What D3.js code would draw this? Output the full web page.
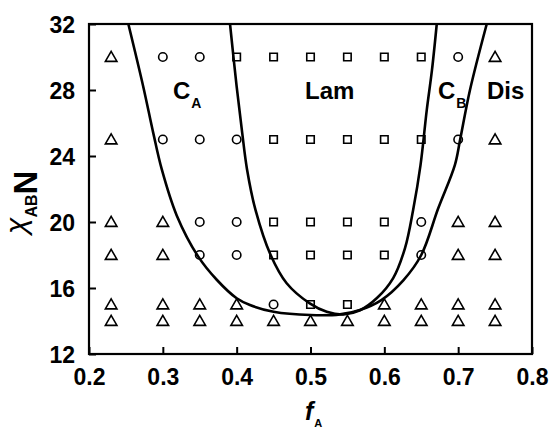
<!DOCTYPE html>
<html>
<head>
<meta charset="utf-8">
<script src="https://cdn.jsdelivr.net/npm/d3@7/dist/d3.min.js"></script>
<style>
  html, body { margin: 0; padding: 0; background: #fff; }
  svg { display: block; font-family: "Liberation Sans", Arial, sans-serif; }
</style>
</head>
<body>
<svg id="chart" width="551" height="429"></svg>
<script>
// Composition and segregation strength of each simulated state
const fA = [0.23, 0.30, 0.35, 0.40, 0.45, 0.50, 0.55, 0.60, 0.65, 0.70, 0.75];
const chiN = [30, 25, 20, 18, 15, 14];

// Observed phase at every fA, one array per chiN row
const phasesAt30 = ["Dis", "CA", "CA", "Lam", "Lam", "Lam", "Lam", "Lam", "Lam", "CB", "Dis"];
const phasesAt25 = ["Dis", "CA", "CA", "CA", "Lam", "Lam", "Lam", "Lam", "Lam", "CB", "Dis"];
const phasesAt20 = ["Dis", "Dis", "CA", "CA", "Lam", "Lam", "Lam", "Lam", "CB", "Dis", "Dis"];
const phasesAt18 = ["Dis", "Dis", "CA", "CA", "Lam", "Lam", "Lam", "Lam", "CB", "Dis", "Dis"];
const phasesAt15 = ["Dis", "Dis", "Dis", "Dis", "CA", "Lam", "Lam", "Dis", "Dis", "Dis", "Dis"];
const phasesAt14 = ["Dis", "Dis", "Dis", "Dis", "Dis", "Dis", "Dis", "Dis", "Dis", "Dis", "Dis"];
const phaseRows = [phasesAt30, phasesAt25, phasesAt20, phasesAt18, phasesAt15, phasesAt14];

// Order-disorder boundary (outer curve): [fA, chiN]
const odtBoundary = [
  [0.2533, 32], [0.2735, 28.2], [0.287, 25.4], [0.2985, 23.2], [0.3188, 20.4],
  [0.348, 17.9], [0.373, 16.5], [0.400, 15.38], [0.418, 14.97], [0.450, 14.56],
  [0.500, 14.36], [0.540, 14.40], [0.567, 14.67], [0.596, 15.27], [0.626, 16.48],
  [0.650, 18.0], [0.673, 20.83], [0.6955, 23.45], [0.7027, 25.0], [0.716, 28.0],
  [0.7387, 32]
];
// Cylinder-lamellae boundary (inner curve): [fA, chiN]
const oooBoundary = [
  [0.391, 32], [0.400, 28.2], [0.4075, 25.4], [0.414, 23.2], [0.4255, 20.73],
  [0.446, 18.0], [0.4677, 16.29], [0.499, 15.07], [0.522, 14.56], [0.545, 14.40],
  [0.567, 14.65], [0.590, 15.39], [0.612, 16.6], [0.628, 18.42], [0.639, 20.73],
  [0.649, 23.45], [0.6575, 26.8], [0.6645, 29.2], [0.671, 32]
];

const xTicks = [0.2, 0.3, 0.4, 0.5, 0.6, 0.7, 0.8];
const yTicks = [12, 16, 20, 24, 28, 32];

// Region names: [main, subscript, fA, chiN]
const regionLabels = [
  ["C", "A", 0.3138, 27.45],
  ["Lam", "", 0.4926, 27.45],
  ["C", "B", 0.6727, 27.45],
  ["Dis", "", 0.739, 27.45]
];

const svg = d3.select("#chart");
const L = 89, R = 532, T = 24, B = 354;

const x = d3.scaleLinear().domain([0.2, 0.8]).range([L, R]);
const y = d3.scaleLinear().domain([12, 32]).range([B, T]);

// Axes with inward ticks
const xAxis = d3.axisBottom(x).tickValues(xTicks).tickFormat(d3.format(".1f"))
  .tickSizeInner(-7).tickSizeOuter(0).tickPadding(15);
const yAxis = d3.axisLeft(y).tickValues(yTicks).tickFormat(d3.format("d"))
  .tickSizeInner(-7).tickSizeOuter(0).tickPadding(14);

const gx = svg.append("g").attr("transform", `translate(0,${B})`).call(xAxis);
const gy = svg.append("g").attr("transform", `translate(${L},0)`).call(yAxis);
[gx, gy].forEach(g => {
  g.select(".domain").remove();
  g.selectAll(".tick line").attr("stroke", "#000").attr("stroke-width", 2);
  g.selectAll(".tick text").attr("fill", "#000")
    .style("font-size", "23px").style("font-weight", "bold")
    .style("font-family", "'Liberation Sans', Arial, sans-serif");
});
gy.selectAll(".tick text").attr("dy", "0.36em");

// Frame
svg.append("rect").attr("x", L).attr("y", T).attr("width", R - L).attr("height", B - T)
  .attr("fill", "none").attr("stroke", "#000").attr("stroke-width", 2.2);

// Phase boundaries
const line = d3.line().x(d => x(d[0])).y(d => y(d[1])).curve(d3.curveCatmullRom.alpha(0.5));
[odtBoundary, oooBoundary].forEach(pts => {
  svg.append("path").attr("d", line(pts)).attr("fill", "none")
    .attr("stroke", "#000").attr("stroke-width", 2.6);
});

// State markers
const symbolFor = {
  Dis: d3.symbol().type(d3.symbolTriangle).size(58),
  CA: d3.symbol().type(d3.symbolCircle).size(56),
  CB: d3.symbol().type(d3.symbolCircle).size(56),
  Lam: d3.symbol().type(d3.symbolSquare).size(56)
};
const points = [];
phaseRows.forEach((row, i) => row.forEach((p, j) => points.push({ f: fA[j], c: chiN[i], p })));
svg.append("g").selectAll("path").data(points).join("path")
  .attr("d", d => symbolFor[d.p]())
  .attr("transform", d => `translate(${x(d.f)},${y(d.c) + (d.p === "Dis" ? 1 : 0)})`)
  .attr("fill", "none").attr("stroke", "#000").attr("stroke-width", 1.6);

// Region names
regionLabels.forEach(([main, sub, f, c]) => {
  const t = svg.append("text").attr("x", x(f)).attr("y", y(c))
    .style("font-size", "24px").style("font-weight", "bold").attr("fill", "#000");
  t.append("tspan").text(main);
  if (sub) t.append("tspan").text(sub).attr("dx", 1).attr("dy", 9).style("font-size", "14px");
});

// Axis titles
const xt = svg.append("text").attr("x", 305).attr("y", 420).attr("fill", "#000");
xt.append("tspan").text("f").style("font-size", "25px").style("font-weight", "bold").style("font-style", "italic");
xt.append("tspan").text("A").attr("dx", 1).attr("dy", 7).style("font-size", "11px").style("font-weight", "bold");

const yt = svg.append("text").attr("transform", "translate(37,234) rotate(-90)").attr("fill", "#000");
yt.append("tspan").text("χ").attr("dy", -11).style("font-size", "30px").style("font-style", "italic");
yt.append("tspan").text("AB").attr("dy", 11).style("font-size", "16px").style("font-weight", "bold");
yt.append("tspan").text("N").style("font-size", "33px").style("font-weight", "bold");
</script>
</body>
</html>
